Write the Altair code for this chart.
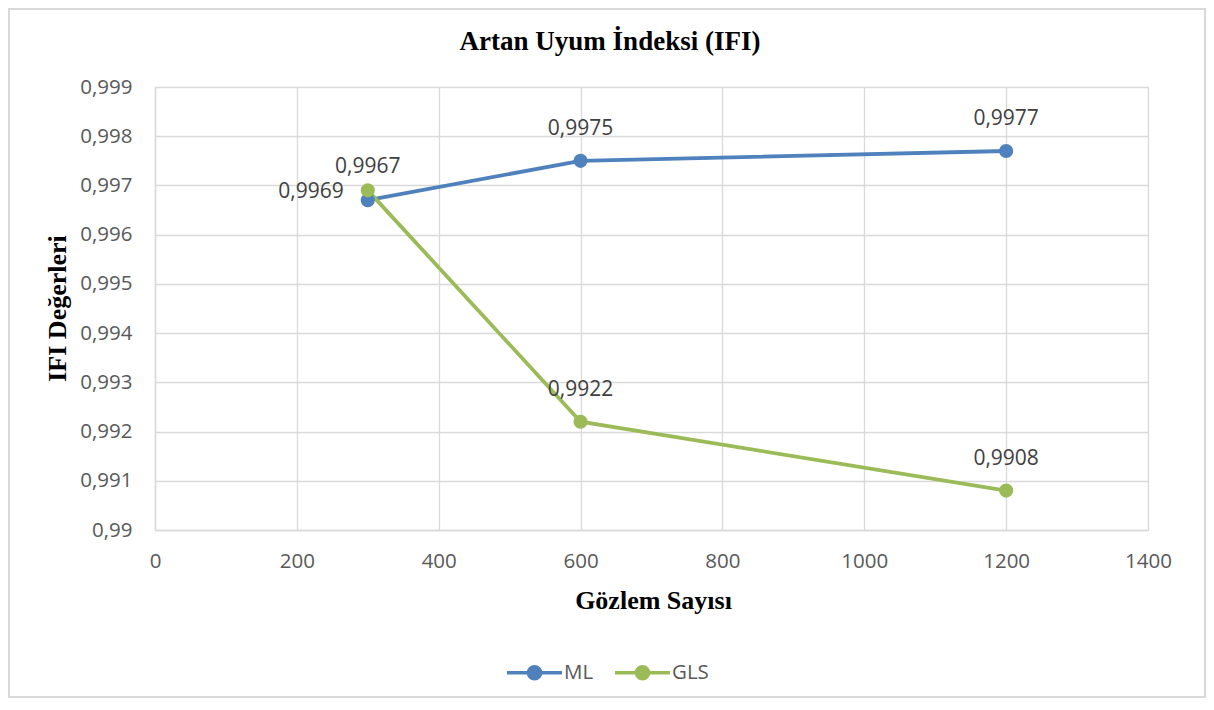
import altair as alt
import pandas as pd

N_OBS = [300, 600, 1200]
ML = [0.9967, 0.9975, 0.9977]
GLS = [0.9969, 0.9922, 0.9908]
ML_LABELS = ["0,9969", "0,9975", "0,9977"]
GLS_LABELS = ["0,9967", "0,9922", "0,9908"]
SERIES = ["ML", "GLS"]
COLORS = ["#4f81bd", "#9bbb59"]
X_TICKS = [0, 200, 400, 600, 800, 1000, 1200, 1400]
Y_TICKS = [0.99, 0.991, 0.992, 0.993, 0.994, 0.995, 0.996, 0.997, 0.998, 0.999]

TITLE = "Artan Uyum İndeksi (IFI)"
X_TITLE = "Gözlem Sayısı"
Y_TITLE = "IFI Değerleri"

rows = []
for name, vals, labs in (("ML", ML, ML_LABELS), ("GLS", GLS, GLS_LABELS)):
    for n, v, l in zip(N_OBS, vals, labs):
        rows.append({"n": n, "v": v, "s": name, "lab": l})
df = pd.DataFrame(rows)

W, H = 993, 443
TOTAL_W, TOTAL_H = 1198, 690
PAD_L, PAD_T = 147, 79

GRID = "#d9d9d9"
SANS = "Open Sans"
SERIF = "Liberation Serif"

x = alt.X(
    "n:Q",
    scale=alt.Scale(domain=[0, 1400], nice=False),
    axis=alt.Axis(
        values=X_TICKS, title=X_TITLE, ticks=False, tickSize=0, format="d",
        labelFlush=False, labelOverlap=False,
        labelPadding=31, labelBaseline="middle", labelFontSize=20.5, labelFont=SANS,
        labelColor="#595959", titleFont=SERIF, titleFontSize=26, titleFontWeight="bold",
        titleColor="#000000", titleX=498, titleY=78, titleBaseline="alphabetic",
        titleAnchor="middle", domainColor=GRID, domainWidth=1.5, gridColor=GRID, gridWidth=1.3,
    ),
)
y = alt.Y(
    "v:Q",
    scale=alt.Scale(domain=[0.99, 0.999], nice=False, zero=False),
    axis=alt.Axis(
        values=Y_TICKS, title=Y_TITLE, ticks=False, tickSize=0,
        labelFlush=False, labelOverlap=False,
        labelExpr="replace(format(datum.value, '.3~f'), '.', ',')",
        labelPadding=23, labelBaseline="middle", labelFontSize=20.5, labelFont=SANS,
        labelColor="#595959", titleFont=SERIF, titleFontSize=26, titleFontWeight="bold",
        titleColor="#000000", titleAngle=270, titleX=-90, titleY=221,
        titleBaseline="alphabetic", titleAlign="center",
        domainColor=GRID, domainWidth=1.5, gridColor=GRID, gridWidth=1.3,
    ),
)

LEG_SYMBOL = (
    "M-1,0H-0.22 M0.22,0H1 "
    "M-0.22,0 A0.22,0.22 0 1,1 0.22,0 A0.22,0.22 0 1,1 -0.22,0 Z"
)

color = alt.Color(
    "s:N",
    scale=alt.Scale(domain=SERIES, range=COLORS),
    legend=alt.Legend(
        title=None, orient="none", legendX=350, legendY=556, direction="horizontal",
        symbolType=LEG_SYMBOL, symbolSize=3025, symbolStrokeWidth=3.5,
        labelFont=SANS, labelFontSize=20.5, labelColor="#595959", labelOffset=0,
        columnPadding=14,
    ),
)

lines = alt.Chart(df).mark_line(strokeWidth=3.8).encode(x=x, y=y, color=color)
points = alt.Chart(df).mark_point(filled=True, size=200, opacity=1).encode(x=x, y=y, color=color)

txt = dict(font=SANS, fontSize=21, color="#404040", baseline="middle")
lab_above = alt.Chart(df).mark_text(dy=-32, **txt).encode(x=x, y=y, text="lab:N").transform_filter(
    "datum.n != 300"
)
lab_gls300 = alt.Chart(df).mark_text(dy=-23, **txt).encode(x=x, y=y, text="lab:N").transform_filter(
    "datum.n == 300 && datum.s == 'GLS'"
)
lab_ml300 = alt.Chart(df).mark_text(dx=-24, dy=-8, align="right", **txt).encode(
    x=x, y=y, text="lab:N"
).transform_filter("datum.n == 300 && datum.s == 'ML'")

one = alt.Data(values=[{"t": TITLE}])
border = alt.Chart(one).mark_rect(fill=None, stroke=GRID, strokeWidth=2).encode(
    x=alt.value(-PAD_L + 1), x2=alt.value(TOTAL_W - PAD_L - 1),
    y=alt.value(-PAD_T + 1), y2=alt.value(TOTAL_H - PAD_T - 1),
)
title = alt.Chart(one).mark_text(
    font=SERIF, fontSize=27, fontWeight="bold", color="#000000", baseline="alphabetic"
).encode(x=alt.value(455), y=alt.value(-37), text="t:N")

chart = alt.layer(border, lines, points, lab_above, lab_gls300, lab_ml300, title).properties(
    width=W, height=H,
    autosize=alt.AutoSizeParams(type="none"),
    padding={"left": PAD_L, "top": PAD_T, "right": TOTAL_W - PAD_L - W, "bottom": TOTAL_H - PAD_T - H},
).configure_view(stroke=None).configure(background="white")

chart.save("out.html", embed_options={"renderer": "svg", "actions": False})
